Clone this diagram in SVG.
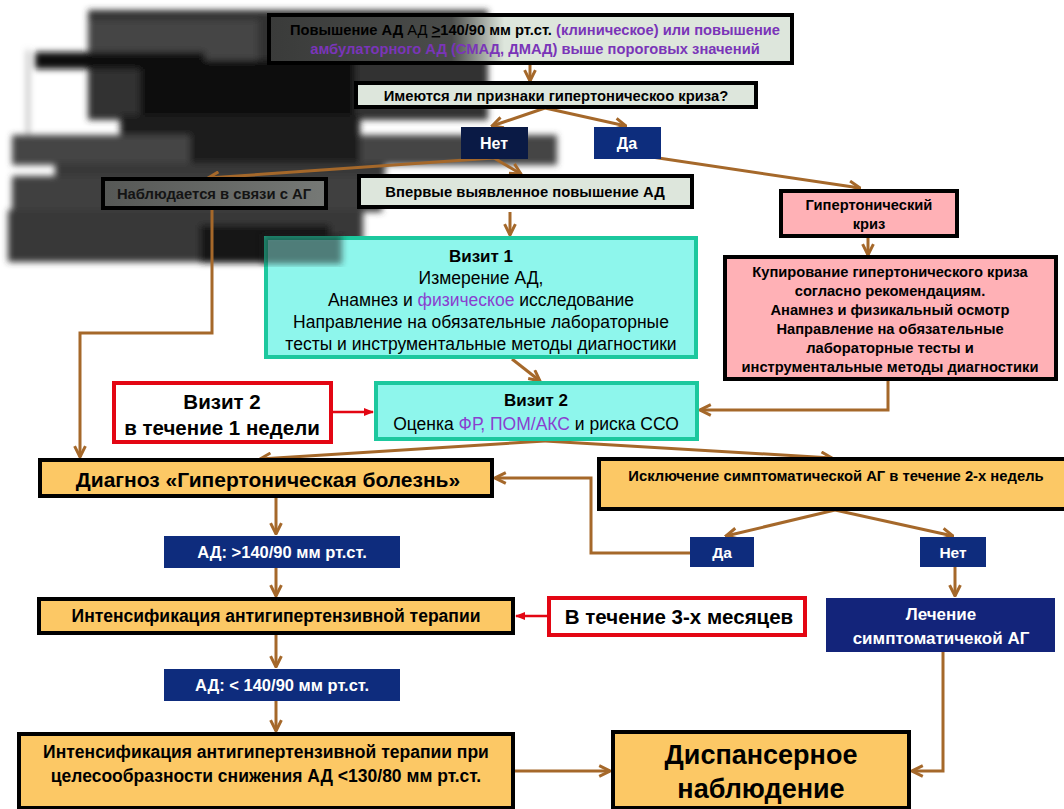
<svg xmlns="http://www.w3.org/2000/svg" width="1064" height="809" viewBox="0 0 1064 809">
<defs>
<style>
text{font-family:"Liberation Sans",Arial,sans-serif;text-anchor:middle}
.b{font-weight:bold}
.k{stroke:#000;stroke-width:4}
.light{fill:#dde6dc}
.org{fill:#fcc865}
.pink{fill:#ffb1b6}
.teal{fill:#8ef6ec;stroke:#1cc89e;stroke-width:4}
.red{fill:#fff;stroke:#e30613;stroke-width:4}
.navy{fill:#0e2c7d}
.w{fill:#fff}
.pur{fill:#7a35b8}
.c{fill:none;stroke:#a5682a;stroke-width:3}
.cr{fill:none;stroke:#e30613;stroke-width:2.5}
</style>
<marker id="ar" viewBox="0 0 10 10" refX="9" refY="5" markerWidth="4.5" markerHeight="4.5" orient="auto" markerUnits="strokeWidth">
<path d="M1,1 L9,5 L1,9" fill="none" stroke="#a5682a" stroke-width="2.2"/>
</marker>
<marker id="arr" viewBox="0 0 10 10" refX="9" refY="5" markerWidth="4" markerHeight="4" orient="auto" markerUnits="strokeWidth">
<path d="M0,1 L10,5 L0,9 Z" fill="#e30613"/>
</marker>
<filter id="bl" x="-10%" y="-10%" width="120%" height="120%"><feGaussianBlur stdDeviation="3"/></filter>
<linearGradient id="topg" x1="268" y1="0" x2="793" y2="0" gradientUnits="userSpaceOnUse">
<stop offset="0" stop-color="#3a3b3a"/><stop offset="0.35" stop-color="#4a4c4a"/><stop offset="0.45" stop-color="#dde6dc"/><stop offset="1" stop-color="#dde6dc"/>
</linearGradient>
<linearGradient id="nabg" x1="0" y1="0" x2="1" y2="0">
<stop offset="0" stop-color="#565856"/><stop offset="1" stop-color="#767976"/>
</linearGradient>
</defs>
<rect width="1064" height="809" fill="#fff"/>

<g id="obscured" filter="url(#bl)">
<rect x="88" y="10" width="400" height="110" fill="#303030"/>
<rect x="88" y="20" width="170" height="45" fill="#454545"/>
<rect x="35" y="52" width="170" height="17" fill="#0a0a0a"/>
<rect x="27" y="50" width="2" height="85" fill="#888"/>
<rect x="140" y="60" width="215" height="60" fill="#111"/>
<rect x="120" y="115" width="240" height="22" fill="#1a1a1a"/>
<rect x="12" y="135" width="545" height="30" fill="#444"/>
<rect x="190" y="135" width="170" height="30" fill="#1e1e1e"/>
<rect x="55" y="163" width="330" height="16" fill="#383838"/>
<rect x="12" y="176" width="370" height="36" fill="#404040"/>
<rect x="8" y="210" width="355" height="52" fill="#383838"/>
<rect x="200" y="225" width="130" height="38" fill="#141414"/>
</g>

<g id="connectors">
<path class="c" d="M530,64 V81" marker-end="url(#ar)"/>
<path class="c" d="M545,108 L492,126" marker-end="url(#ar)"/>
<path class="c" d="M545,108 L626,126" marker-end="url(#ar)"/>
<path class="c" d="M494,158 L208,178" marker-end="url(#ar)"/>
<path class="c" d="M494,158 L521,174" marker-end="url(#ar)"/>
<path class="c" d="M645,156 L860,188" marker-end="url(#ar)"/>
<path class="c" d="M510,212 V235" marker-end="url(#ar)"/>
<path class="c" d="M868,236 V255" marker-end="url(#ar)"/>
<path class="c" d="M512,359 L540,381" marker-end="url(#ar)"/>
<path class="c" d="M888,380 V410 H700" marker-end="url(#ar)"/>
<path class="c" d="M212,209 V333 H80 V457" marker-end="url(#ar)"/>
<path class="c" d="M545,441 L260,459" marker-end="url(#ar)"/>
<path class="c" d="M545,441 L832,458" marker-end="url(#ar)"/>
<path class="c" d="M835,510 L726,536" marker-end="url(#ar)"/>
<path class="c" d="M835,510 L953,536" marker-end="url(#ar)"/>
<path class="c" d="M690,553 H591 V478 H495" marker-end="url(#ar)"/>
<path class="c" d="M955,567 V596" marker-end="url(#ar)"/>
<path class="c" d="M943,652 V771 H912" marker-end="url(#ar)"/>
<path class="c" d="M276,498 V534" marker-end="url(#ar)"/>
<path class="c" d="M276,568 V596" marker-end="url(#ar)"/>
<path class="c" d="M276,634 V667" marker-end="url(#ar)"/>
<path class="c" d="M276,701 V731" marker-end="url(#ar)"/>
<path class="c" d="M514,771 H610" marker-end="url(#ar)"/>
<path class="cr" d="M332,412 H373" marker-end="url(#arr)"/>
<path class="cr" d="M548,616 H516" marker-end="url(#arr)"/>
</g>

<g id="n-top">
<rect x="269" y="15" width="523" height="48" fill="url(#topg)" class="k"/>
<text x="535" y="35" font-size="14.7"><tspan class="b">Повышение АД</tspan> АД <tspan class="b"><tspan text-decoration="underline">&gt;</tspan>140/90 мм рт.ст.</tspan> <tspan class="b pur">(клиническое) или повышение</tspan></text>
<text x="535" y="54" font-size="14.7" class="b pur">амбулаторного АД (СМАД, ДМАД) выше пороговых значений</text>
</g>

<g id="n-q">
<rect x="356" y="83" width="400" height="24" class="light k"/>
<text x="556" y="100.5" font-size="14.8" class="b">Имеются ли признаки гипертоническоо криза?</text>
</g>

<g id="n-no1">
<rect x="461" y="127" width="67" height="32" fill="#0a1a45"/>
<text x="494" y="149" font-size="16" class="b w">Нет</text>
</g>

<g id="n-yes1">
<rect x="594" y="127" width="67" height="32" fill="#0d2d7d"/>
<text x="627" y="149" font-size="16" class="b w">Да</text>
</g>

<g id="n-observed">
<rect x="103" y="179" width="223" height="29" fill="url(#nabg)" class="k"/>
<text x="214" y="199" font-size="14.8" class="b" fill="#141414">Наблюдается в связи с АГ</text>
</g>

<g id="n-first">
<rect x="359" y="176" width="333" height="31" class="light k"/>
<text x="525" y="197" font-size="14.8" class="b">Впервые выявленное повышение АД</text>
</g>

<g id="n-visit1">
<rect x="266" y="238" width="430" height="119" class="teal"/>
<text x="481" y="262" font-size="17" class="b">Визит 1</text>
<text x="481" y="284" font-size="17.5">Измерение АД,</text>
<text x="481" y="306" font-size="17.5">Анамнез и <tspan fill="#8a3fcf">физическое</tspan> исследование</text>
<text x="481" y="328" font-size="17.5">Направление на обязательные лабораторные</text>
<text x="481" y="350" font-size="17.5">тесты и инструментальные методы диагностики</text>
</g>

<rect x="262" y="234" width="80" height="30" fill="#1e1e1e" opacity="0.55" filter="url(#bl)"/>

<g id="n-crisis">
<rect x="781" y="191" width="176" height="45" class="pink k"/>
<text x="869" y="210" font-size="14.7" class="b">Гипертонический</text>
<text x="869" y="229" font-size="14.7" class="b">криз</text>
</g>

<g id="n-relief">
<rect x="725" y="257" width="331" height="122" class="pink k"/>
<text x="890" y="277" font-size="14.7" class="b">Купирование гипертонического криза</text>
<text x="890" y="296" font-size="14.7" class="b">согласно рекомендациям.</text>
<text x="890" y="315" font-size="14.7" class="b">Анамнез и физикальный осмотр</text>
<text x="890" y="334" font-size="14.7" class="b">Направление на обязательные</text>
<text x="890" y="353" font-size="14.7" class="b">лабораторные тесты и</text>
<text x="890" y="372" font-size="14.7" class="b">инструментальные методы диагностики</text>
</g>

<g id="n-visit2">
<rect x="376" y="383" width="321" height="56" class="teal"/>
<text x="536" y="406" font-size="17" class="b">Визит 2</text>
<text x="536" y="430" font-size="17.5">Оценка <tspan fill="#8a3fcf">ФР, ПОМ/АКС</tspan> и риска ССО</text>
</g>

<g id="n-visit2-time">
<rect x="114" y="383" width="217" height="59" class="red"/>
<text x="222" y="409" font-size="20.5" class="b">Визит 2</text>
<text x="222" y="435" font-size="20.5" class="b">в течение 1 недели</text>
</g>

<g id="n-diag">
<rect x="40" y="460" width="452" height="36" class="org k"/>
<text x="268" y="487" font-size="21" class="b">Диагноз «Гипертоническая болезнь»</text>
</g>

<g id="n-exclude">
<rect x="599" y="459" width="470" height="50" class="org k"/>
<text x="836" y="481" font-size="14.8" class="b">Исключение симптоматической АГ в течение 2-х недель</text>
</g>

<g id="n-yes2">
<rect x="690" y="537" width="64" height="30" class="navy"/>
<text x="722" y="558" font-size="15.5" class="b w">Да</text>
</g>

<g id="n-no2">
<rect x="920" y="537" width="66" height="30" class="navy"/>
<text x="953" y="558" font-size="15.5" class="b w">Нет</text>
</g>

<g id="n-treat">
<rect x="826" y="598" width="229" height="54" fill="#13247a"/>
<text x="941" y="620" font-size="17" class="b w">Лечение</text>
<text x="941" y="644" font-size="17" class="b w">симптоматичекой АГ</text>
</g>

<g id="n-bp1">
<rect x="164" y="536" width="236" height="32" class="navy"/>
<text x="282" y="558" font-size="16.5" class="b w">АД: &gt;140/90 мм рт.ст.</text>
</g>

<g id="n-intens1">
<rect x="39" y="599" width="474" height="34" class="org k"/>
<text x="276" y="622" font-size="17.5" class="b">Интенсификация антигипертензивной терапии</text>
</g>

<g id="n-3months">
<rect x="549" y="598" width="256" height="37" class="red"/>
<text x="679" y="624" font-size="20.5" class="b">В течение 3-х месяцев</text>
</g>

<g id="n-bp2">
<rect x="164" y="669" width="236" height="32" class="navy"/>
<text x="282" y="691" font-size="16.5" class="b w">АД: &lt; 140/90 мм рт.ст.</text>
</g>

<g id="n-intens2">
<rect x="19" y="734" width="494" height="74" class="org k"/>
<text x="266" y="758" font-size="17.5" class="b">Интенсификация антигипертензивной терапии при</text>
<text x="266" y="782" font-size="17.5" class="b">целесообразности снижения АД &lt;130/80 мм рт.ст.</text>
</g>

<g id="n-disp">
<rect x="613" y="732" width="296" height="76" class="org k"/>
<text x="761" y="764" font-size="27" class="b">Диспансерное</text>
<text x="761" y="798" font-size="27" class="b">наблюдение</text>
</g>
</svg>
